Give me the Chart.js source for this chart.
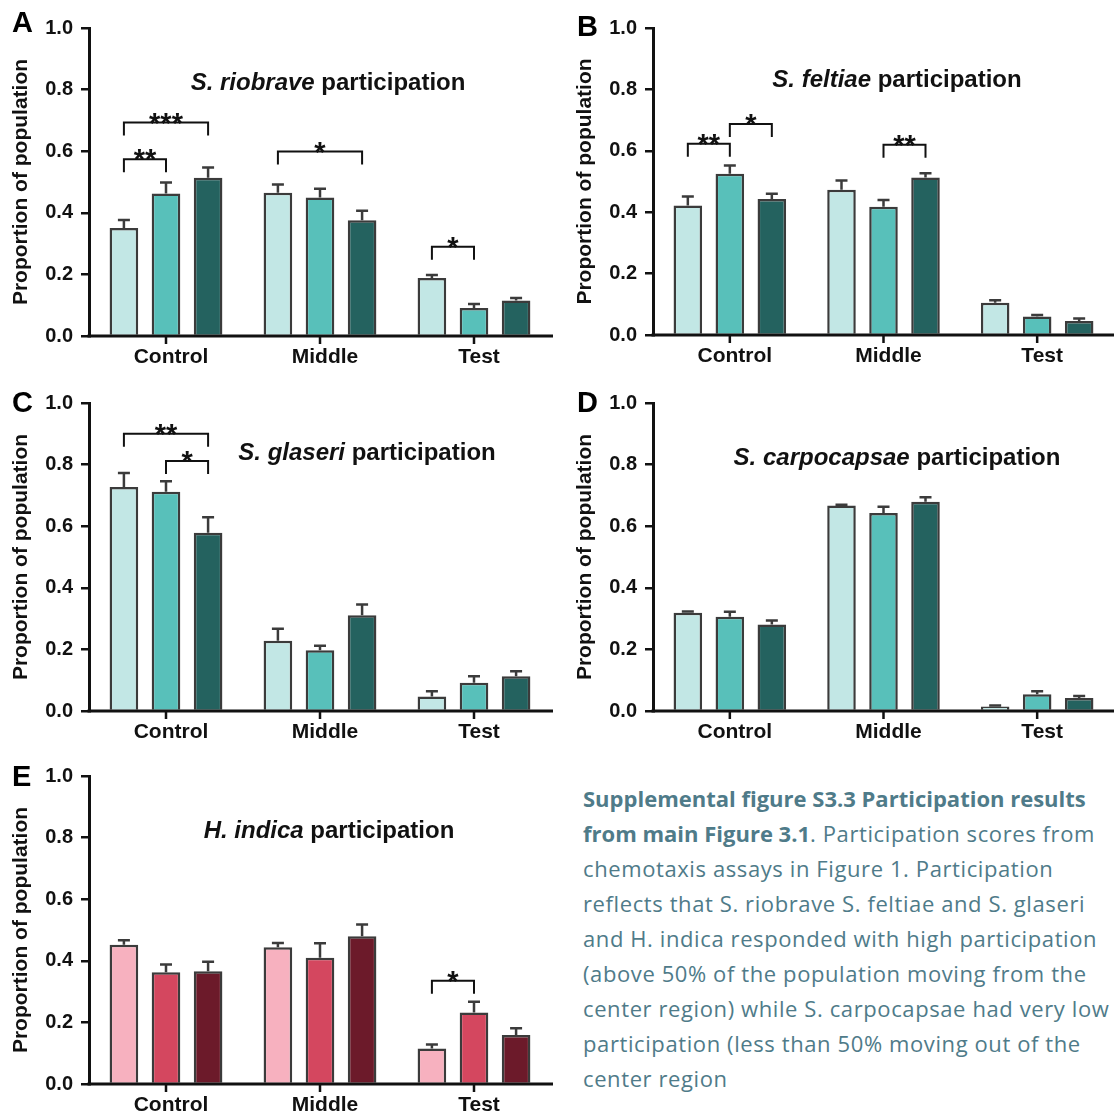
<!DOCTYPE html>
<html>
<head>
<meta charset="utf-8">
<script src="https://cdn.jsdelivr.net/npm/chart.js@4.4.1/dist/chart.umd.min.js"></script>
<style>
  html, body { margin: 0; padding: 0; background: #fff; }
  #page { position: relative; width: 1114px; height: 1119px; overflow: hidden; }
  canvas { position: absolute; }
  .letter {
    position: absolute; font: bold 29px "Liberation Sans", Arial, sans-serif;
    line-height: 1; color: #000;
  }
  #caption {
    position: absolute; left: 583px; top: 781px; white-space: nowrap;
    font: 22px "Open Sans", Lato, sans-serif; line-height: 35px; color: #4f7b89;
    letter-spacing: 0.6px;
  }
  #caption b { letter-spacing: 0; }
</style>
</head>
<body>
<div id="page">
  <canvas id="cA" width="557" height="370" style="left:0;top:0"></canvas>
  <canvas id="cB" width="554" height="370" style="left:560px;top:0"></canvas>
  <canvas id="cC" width="557" height="375" style="left:0;top:370px"></canvas>
  <canvas id="cD" width="554" height="375" style="left:560px;top:370px"></canvas>
  <canvas id="cE" width="557" height="374" style="left:0;top:745px"></canvas>

  <div class="letter" style="left:12px;top:8px">A</div>
  <div class="letter" style="left:577px;top:12px">B</div>
  <div class="letter" style="left:12px;top:388px">C</div>
  <div class="letter" style="left:577px;top:388px">D</div>
  <div class="letter" style="left:12px;top:762px">E</div>

  <div id="caption"><b>Supplemental figure S3.3 Participation results<br>from main Figure 3.1</b>. Participation scores from<br>chemotaxis assays in Figure 1. Participation<br>reflects that S. riobrave S. feltiae and S. glaseri<br>and H. indica responded with high participation<br>(above 50% of the population moving from the<br>center region) while S. carpocapsae had very low<br>participation (less than 50% moving out of the<br>center region</div>
</div>

<script>
// ---- data (rows = the three bars of each group, columns = Control / Middle / Test)
const categories = ["Control", "Middle", "Test"];

const riobraveMean = [[0.351, 0.465, 0.188], [0.463, 0.450, 0.091], [0.514, 0.376, 0.115]];
const riobraveSem  = [[0.026, 0.027, 0.010], [0.035, 0.028, 0.013], [0.033, 0.031, 0.008]];
const riobraveSig  = [
  { cat: 0, from: 0, to: 2, y: 0.693, label: "***" },
  { cat: 0, from: 0, to: 1, y: 0.574, label: "**" },
  { cat: 1, from: 0, to: 2, y: 0.599, label: "*" },
  { cat: 2, from: 0, to: 1, y: 0.290, label: "*" },
];

const feltiaeMean = [[0.422, 0.473, 0.105], [0.525, 0.418, 0.060], [0.443, 0.513, 0.046]];
const feltiaeSem  = [[0.029, 0.030, 0.008], [0.027, 0.022, 0.005], [0.017, 0.014, 0.008]];
const feltiaeSig  = [
  { cat: 0, from: 0, to: 1, y: 0.623, label: "**" },
  { cat: 0, from: 1, to: 2, y: 0.687, label: "*" },
  { cat: 1, from: 1, to: 2, y: 0.620, label: "**" },
];

const glaseriMean = [[0.727, 0.228, 0.047], [0.712, 0.197, 0.092], [0.579, 0.311, 0.113]];
const glaseriSem  = [[0.046, 0.039, 0.017], [0.034, 0.015, 0.021], [0.050, 0.035, 0.016]];
const glaseriSig  = [
  { cat: 0, from: 0, to: 2, y: 0.900, label: "**" },
  { cat: 0, from: 1, to: 2, y: 0.812, label: "*" },
];

const carpoMean = [[0.319, 0.667, 0.015], [0.306, 0.643, 0.054], [0.281, 0.679, 0.042]];
const carpoSem  = [[0.004, 0.003, 0.003], [0.016, 0.020, 0.010], [0.013, 0.015, 0.007]];
const carpoSig  = [];

const indicaMean = [[0.452, 0.444, 0.115], [0.363, 0.410, 0.232], [0.366, 0.480, 0.159]];
const indicaSem  = [[0.015, 0.014, 0.013], [0.025, 0.047, 0.035], [0.031, 0.038, 0.022]];
const indicaSig  = [{ cat: 2, from: 0, to: 1, y: 0.335, label: "*" }];

// ---- styles
const TEAL = ["#c2e7e5", "#58c0ba", "#24625f"];
const RED = ["#f7b1bf", "#d4475f", "#6c1a2a"];
const EDGE = "#3b3b3b";
const INK = "#111";
const FONT = '"Liberation Sans", Arial, sans-serif';

// error bars, x axis with ticks, significance brackets, in-plot title
const decor = {
  id: "decor",
  afterDatasetsDraw(chart, args, opts) {
    const ctx = chart.ctx;
    const xs = chart.scales.x;
    const ys = chart.scales.y;
    const area = chart.chartArea;
    ctx.save();

    // SEM (upper only)
    ctx.strokeStyle = EDGE;
    ctx.lineWidth = 2.5;
    chart.data.datasets.forEach((ds, i) => {
      chart.getDatasetMeta(i).data.forEach((bar, j) => {
        const top = ys.getPixelForValue(ds.data[j] + ds.sem[j]);
        ctx.beginPath();
        ctx.moveTo(bar.x, bar.y);
        ctx.lineTo(bar.x, top);
        ctx.moveTo(bar.x - 6, top);
        ctx.lineTo(bar.x + 6, top);
        ctx.stroke();
      });
    });

    // x axis line and a tick under each group
    ctx.strokeStyle = INK;
    ctx.lineWidth = 3;
    ctx.beginPath();
    ctx.moveTo(area.left - 1.5, area.bottom);
    ctx.lineTo(opts.axisEnd, area.bottom);
    ctx.stroke();
    ctx.lineWidth = 2.5;
    ctx.beginPath();
    categories.forEach((c, i) => {
      const x = xs.getPixelForValue(i);
      ctx.moveTo(x, area.bottom);
      ctx.lineTo(x, area.bottom + 8);
    });
    ctx.stroke();

    // brackets
    ctx.lineWidth = 2;
    ctx.fillStyle = INK;
    ctx.textAlign = "center";
    ctx.textBaseline = "alphabetic";
    ctx.font = `bold 29px ${FONT}`;
    (opts.brackets || []).forEach((b) => {
      const x1 = chart.getDatasetMeta(b.from).data[b.cat].x;
      const x2 = chart.getDatasetMeta(b.to).data[b.cat].x;
      const yy = ys.getPixelForValue(b.y);
      ctx.beginPath();
      ctx.moveTo(x1, yy + 13);
      ctx.lineTo(x1, yy);
      ctx.lineTo(x2, yy);
      ctx.lineTo(x2, yy + 13);
      ctx.stroke();
      ctx.fillText(b.label, (x1 + x2) / 2, yy + 10);
    });

    // title: italic species name + plain word
    const t = opts.title;
    ctx.textAlign = "left";
    ctx.textBaseline = "middle";
    ctx.font = `italic bold 24px ${FONT}`;
    const w1 = ctx.measureText(t.species).width;
    ctx.font = `bold 24px ${FONT}`;
    const w2 = ctx.measureText(t.rest).width;
    const x0 = t.x - (w1 + w2) / 2;
    ctx.font = `italic bold 24px ${FONT}`;
    ctx.fillText(t.species, x0, t.y);
    ctx.font = `bold 24px ${FONT}`;
    ctx.fillText(t.rest, x0 + w1, t.y);

    ctx.restore();
  },
};

function makePanel(p) {
  return new Chart(document.getElementById(p.id), {
    type: "bar",
    data: {
      labels: categories,
      datasets: p.mean.map((vals, i) => ({
        label: "Group " + (i + 1),
        data: vals,
        sem: p.sem[i],
        backgroundColor: p.colors[i],
        borderColor: EDGE,
        borderWidth: 2.5,
        borderSkipped: "start",
        categoryPercentage: 0.82,
        barPercentage: 0.68,
      })),
    },
    options: {
      responsive: false,
      animation: false,
      events: [],
      layout: { padding: { top: p.padTop, right: p.padRight, left: 0, bottom: 0 } },
      plugins: {
        legend: { display: false },
        tooltip: { enabled: false },
        decor: { axisEnd: p.axisEnd, brackets: p.sig, title: p.title },
      },
      scales: {
        x: {
          grid: { display: false, drawTicks: true, tickLength: 7 },
          border: { display: false },
          ticks: { color: INK, font: { family: FONT, size: 21, weight: "bold" }, padding: 2, labelOffset: 5 },
          afterFit: (s) => { s.height = p.xHeight; },
        },
        y: {
          min: 0,
          max: 1,
          ticks: {
            stepSize: 0.2,
            callback: (v) => v.toFixed(1),
            color: INK,
            font: { family: FONT, size: 20, weight: "bold" },
            padding: 8,
          },
          grid: { drawOnChartArea: false, tickLength: 8, lineWidth: 2.5, color: INK },
          border: { display: true, width: 3, color: INK },
          title: {
            display: true,
            text: "Proportion of population",
            color: INK,
            font: { family: FONT, size: 21, weight: "bold" },
            padding: { top: p.titlePad, bottom: 0 },
          },
          afterFit: (s) => { s.width = p.axisX; },
        },
      },
    },
    plugins: [decor],
  });
}

makePanel({ id: "cA", mean: riobraveMean, sem: riobraveSem, sig: riobraveSig, colors: TEAL,
  title: { species: "S. riobrave", rest: " participation", x: 328, y: 83 },
  axisX: 89, padTop: 28, padRight: 6, xHeight: 34, axisEnd: 553, titlePad: 9 });
makePanel({ id: "cB", mean: feltiaeMean, sem: feltiaeSem, sig: feltiaeSig, colors: TEAL,
  title: { species: "S. feltiae", rest: " participation", x: 337, y: 80 },
  axisX: 93, padTop: 28, padRight: 0, xHeight: 35, axisEnd: 554, titlePad: 13 });
makePanel({ id: "cC", mean: glaseriMean, sem: glaseriSem, sig: glaseriSig, colors: TEAL,
  title: { species: "S. glaseri", rest: " participation", x: 367, y: 83 },
  axisX: 89, padTop: 33, padRight: 6, xHeight: 34, axisEnd: 553, titlePad: 9 });
makePanel({ id: "cD", mean: carpoMean, sem: carpoSem, sig: carpoSig, colors: TEAL,
  title: { species: "S. carpocapsae", rest: " participation", x: 337, y: 88 },
  axisX: 93, padTop: 33, padRight: 0, xHeight: 34, axisEnd: 554, titlePad: 13 });
makePanel({ id: "cE", mean: indicaMean, sem: indicaSem, sig: indicaSig, colors: RED,
  title: { species: "H. indica", rest: " participation", x: 329, y: 86 },
  axisX: 89, padTop: 31, padRight: 6, xHeight: 35, axisEnd: 553, titlePad: 9 });
</script>
</body>
</html>
